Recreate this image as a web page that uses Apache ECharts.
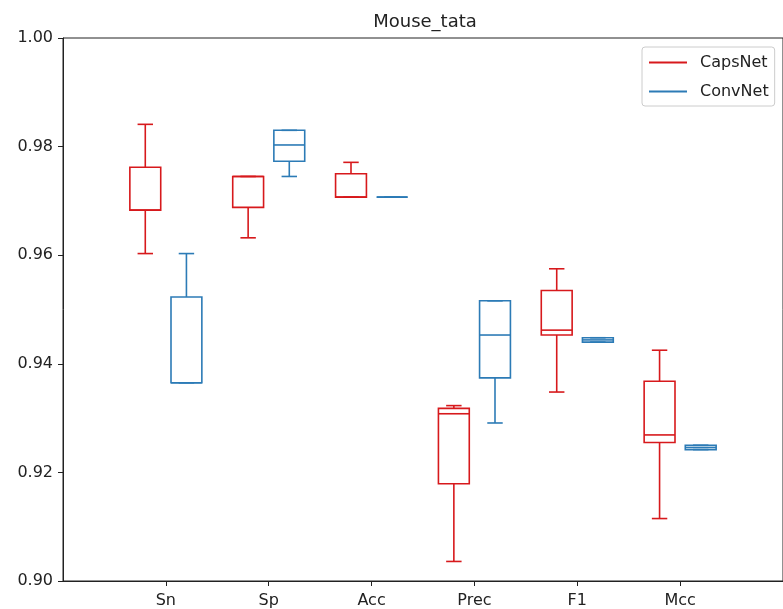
<!DOCTYPE html>
<html>
<head>
<meta charset="utf-8">
<script src="https://cdn.jsdelivr.net/npm/echarts@6/dist/echarts.min.js"></script>
<style>html,body{margin:0;padding:0;background:#fff}#c{width:783px;height:609px}</style>
</head>
<body>
<div id="c"></div>
<script>
// Data (five-number summaries: min, Q1, median, Q3, max)
const categories = ['Sn', 'Sp', 'Acc', 'Prec', 'F1', 'Mcc'];
const capsNet = [
  [0.9603, 0.9683, 0.9683, 0.9762, 0.9841],
  [0.9632, 0.9688, 0.9745, 0.9745, 0.9745],
  [0.9707, 0.9707, 0.9707, 0.9750, 0.9771],
  [0.9036, 0.9179, 0.9308, 0.9318, 0.9323],
  [0.9348, 0.9453, 0.9462, 0.9535, 0.9575],
  [0.9115, 0.9255, 0.9269, 0.9368, 0.9425]
];
const convNet = [
  [0.9365, 0.9365, 0.9365, 0.9523, 0.9603],
  [0.9745, 0.9773, 0.9803, 0.9830, 0.9830],
  [0.9707, 0.9707, 0.9707, 0.9707, 0.9707],
  [0.9291, 0.9374, 0.9453, 0.9516, 0.9516],
  [0.9440, 0.9440, 0.9444, 0.9448, 0.9448],
  [0.9242, 0.9242, 0.9246, 0.9250, 0.9250]
];
const yTicks = [0.90, 0.92, 0.94, 0.96, 0.98, 1.00];
const seriesNames = ['CapsNet', 'ConvNet'];

const RED = '#D7191C', BLUE = '#2C7BB6';
const SPACING = 2, OFFSET = 0.4, BOX_W = 0.6, CAP_W = 0.3;
const FONT = 'DejaVu Sans';

function toItems(arr, off) {
  return arr.map((d, i) => [i * SPACING + off].concat(d));
}

function makeRender(color) {
  return function (params, api) {
    const x = api.value(0);
    const mn = api.coord([x, api.value(1)]);
    const q1 = api.coord([x, api.value(2)]);
    const md = api.coord([x, api.value(3)]);
    const q3 = api.coord([x, api.value(4)]);
    const mx = api.coord([x, api.value(5)]);
    const hw = api.size([BOX_W, 0])[0] / 2;
    const cw = api.size([CAP_W, 0])[0] / 2;
    const cx = mn[0];
    const st = {stroke: color, lineWidth: 1.6, fill: null};
    const line = (x1, y1, x2, y2) => ({type: 'line', shape: {x1, y1, x2, y2}, style: st});
    const children = [
      {type: 'rect', shape: {x: cx - hw, y: q3[1], width: hw * 2, height: q1[1] - q3[1]}, style: st},
      line(cx - hw, md[1], cx + hw, md[1]),
      line(cx, q1[1], cx, mn[1]),
      line(cx, q3[1], cx, mx[1]),
      line(cx - cw, mn[1], cx + cw, mn[1]),
      line(cx - cw, mx[1], cx + cw, mx[1])
    ];
    return {type: 'group', children};
  };
}

const chart = echarts.init(document.getElementById('c'), null, {renderer: 'canvas'});
chart.setOption({
  backgroundColor: '#fff',
  animation: false,
  title: {
    text: 'Mouse_tata',
    left: 420, top: 8, textAlign: 'center',
    textStyle: {fontFamily: FONT, fontSize: 18, fontWeight: 'normal', color: '#222'}
  },
  legend: {
    left: 642, top: 47,
    orient: 'vertical',
    itemWidth: 38, itemHeight: 2, itemGap: 12,
    padding: [7, 6, 6, 7],
    backgroundColor: '#fff', borderColor: '#ccc', borderWidth: 1, borderRadius: 3,
    textStyle: {fontFamily: FONT, fontSize: 16, color: '#222', lineHeight: 17, padding: [0, 0, 0, 8]},
    data: [{name: seriesNames[0], icon: 'rect'}, {name: seriesNames[1], icon: 'rect'}]
  },
  grid: {left: 63, right: -14, top: 38, bottom: 28, show: true, borderColor: '#222', borderWidth: 1, backgroundColor: 'transparent'},
  xAxis: {
    type: 'value', min: -SPACING, max: categories.length * SPACING, interval: SPACING,
    splitLine: {show: false},
    axisLine: {onZero: false, lineStyle: {color: '#222', width: 1}},
    axisTick: {show: true, length: 5, lineStyle: {color: '#222'}, customValues: categories.map((c, i) => i * SPACING)},
    axisLabel: {
      fontFamily: FONT, fontSize: 16, color: '#222', margin: 12,
      customValues: categories.map((c, i) => i * SPACING),
      formatter: v => categories[Math.round(v / SPACING)] || ''
    }
  },
  yAxis: {
    type: 'value', min: yTicks[0], max: yTicks[yTicks.length - 1], interval: 0.02,
    splitLine: {show: false},
    axisLine: {show: true, onZero: false, lineStyle: {color: '#222', width: 1}},
    axisTick: {show: true, length: 5, lineStyle: {color: '#222'}},
    axisLabel: {fontFamily: FONT, fontSize: 16, color: '#222', margin: 10, formatter: v => v.toFixed(2)}
  },
  series: [
    {
      name: seriesNames[0], type: 'custom', renderItem: makeRender(RED),
      itemStyle: {color: RED},
      encode: {x: 0, y: [1, 2, 3, 4, 5]},
      data: toItems(capsNet, -OFFSET)
    },
    {
      name: seriesNames[1], type: 'custom', renderItem: makeRender(BLUE),
      itemStyle: {color: BLUE},
      encode: {x: 0, y: [1, 2, 3, 4, 5]},
      data: toItems(convNet, OFFSET)
    }
  ]
});
</script>
</body>
</html>
